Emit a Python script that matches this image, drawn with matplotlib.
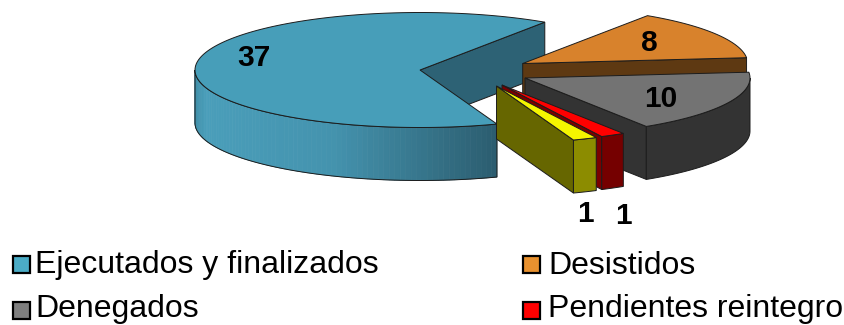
# -*- coding: utf-8 -*-
import numpy as np
import matplotlib
matplotlib.use('Agg')
import matplotlib.pyplot as plt
from matplotlib.patches import Polygon, Rectangle

plt.rcParams['font.family'] = ['Liberation Sans', 'DejaVu Sans']

# slices, clockwise from the big one
values = [37, 8, 10, 1, 1]
legend_labels = ['Ejecutados y finalizados', 'Desistidos', 'Denegados', 'Pendientes reintegro']
legend_colors = ['#4BACC6', '#E8912F', '#7F7F7F', '#FF0000']

# look of each slice
top_colors = ['#479EB9', '#D8822C', '#737373', '#FF0000', '#F5F500']
edge_colors = ['#2D6275', '#5E3912', '#333333', '#7A0000', '#666600']
rim_colors = [None, '#5E3912', '#333333', '#750000', '#8C8C00']
apex_x = [420, 522.7, 525, 502, 496.5]
apex_y = [70, 63.5, 78, 85, 86]
label_x = [254, 649, 661, 623, 585]
label_y = [58, 43, 99, 216.5, 213.5]

rx, ry, depth = 225, 57.5, 53
start_angle = -70

fig = plt.figure(figsize=(8.45, 3.25), dpi=100, facecolor='white')
ax = fig.add_axes([0, 0, 1, 1])
ax.set_xlim(0, 845)
ax.set_ylim(325, 0)
ax.axis('off')


def arc(cx, cy, a0, a1, n=80):
    t = np.radians(np.linspace(a0, a1, n))
    return np.column_stack([cx + rx * np.cos(t), cy - ry * np.sin(t)])


def wall(pts):
    low = pts[::-1] + [0, depth]
    return np.vstack([pts, low])


def blue_shade(x):
    # rim of the big slice goes dark towards the cut
    stops = [195, 205, 330, 496]
    r = np.interp(x, stops, [0x3F, 0x4A, 0x44, 0x2B])
    g = np.interp(x, stops, [0x8E, 0x9E, 0x93, 0x5C])
    b = np.interp(x, stops, [0xA8, 0xBA, 0xAE, 0x6E])
    return (r / 255, g / 255, b / 255)


line = dict(edgecolor='#1c1c1c', linewidth=0.7)
spans = np.array(values) / sum(values) * 360
a = start_angle
for i, v in enumerate(values):
    a0, a1 = a, a - spans[i]
    # big slice passes the back of the pie, carry on from the positive angle
    a = a1 + 360 if i == 0 else a1
    cx, cy = apex_x[i], apex_y[i]

    # straight cut on the clockwise end
    end = arc(cx, cy, a1, a1, 1)[0]
    ax.add_patch(Polygon(wall(np.array([[cx, cy], end])), facecolor=edge_colors[i], **line))

    # front of the rim, only the part below the centre line
    lo, hi = max(a1, -180), min(a0, 0)
    if hi > lo:
        pts = arc(cx, cy, lo, hi)
        if i == 0:
            for j in range(len(pts) - 1):
                ax.add_patch(Polygon(wall(pts[j:j + 2]), facecolor=blue_shade(pts[j, 0]),
                                     edgecolor=blue_shade(pts[j, 0]), linewidth=0.5))
            ax.add_patch(Polygon(wall(pts), facecolor='none', **line))
        else:
            ax.add_patch(Polygon(wall(pts), facecolor=rim_colors[i], **line))

    # top face
    top = np.vstack([[cx, cy], arc(cx, cy, a0, a1, 160)])
    ax.add_patch(Polygon(top, facecolor=top_colors[i], **line))

for v, x, y in zip(values, label_x, label_y):
    ax.text(x, y, str(v), fontsize=21.5, fontweight='bold', color='black',
            ha='center', va='center')

# legend, two columns
col_x = [13, 523]
row_y = [264, 310]
text_y = [265.5, 309]
for i, (lab, col) in enumerate(zip(legend_labels, legend_colors)):
    x, y = col_x[i % 2], row_y[i // 2]
    ax.add_patch(Rectangle((x, y - 8.5), 17, 17, facecolor=col, edgecolor='black', linewidth=1.6))
    ax.text(x + 22 + (3 if i % 2 else 0), text_y[i // 2], lab, fontsize=23, color='black', ha='left', va='center')

plt.savefig('out.png', dpi=100, facecolor='white')
